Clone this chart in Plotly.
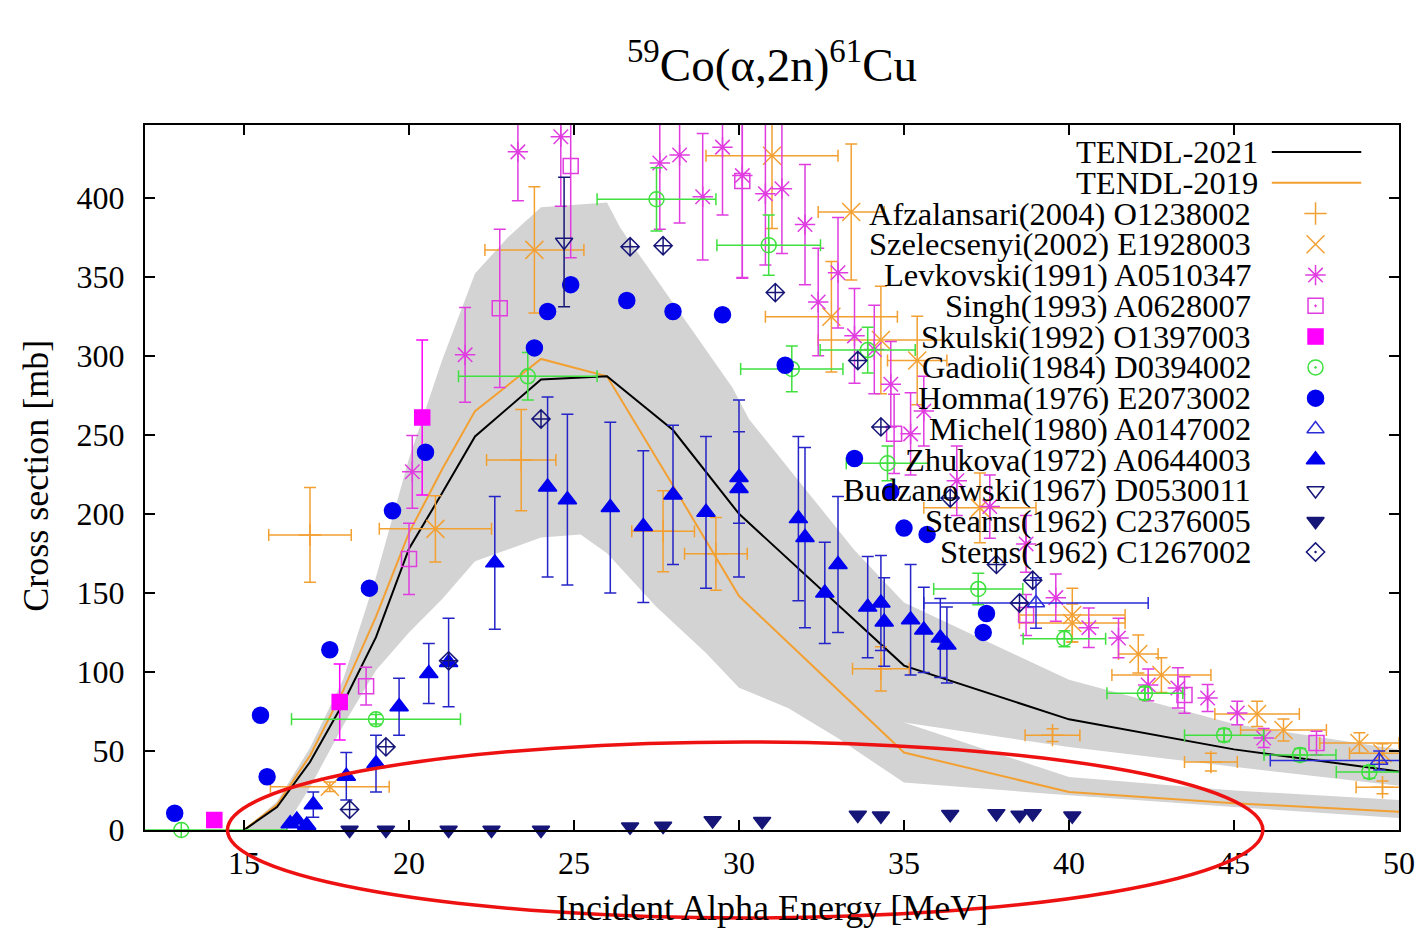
import plotly.graph_objects as go

# ---------------- data ----------------
# TENDL evaluations
tendl21_E = [15, 16, 17, 18, 19, 20, 21, 22, 24, 26, 28, 30, 35, 40, 45, 50]
tendl21_xs = [0, 14.5, 43, 80, 122, 178, 213, 249, 285, 287, 253, 200, 104, 70, 51, 37]
tendl19_E = [15, 16, 17, 18, 19, 20, 21, 22, 24, 26, 28, 30, 35, 40, 45, 50]
tendl19_xs = [0, 16, 47, 88, 135, 188, 228, 265, 298, 287, 218, 148, 49, 24, 17, 11.5]

# uncertainty band
band_up_E = [15.0, 16, 17, 18, 19, 20, 21, 22, 23, 24, 26, 26.4, 29.8, 30.3, 33.5, 35, 40, 45, 50]
band_up = [0, 18, 52, 95, 160, 235, 297, 352, 375, 394, 397, 381, 280, 260, 177, 144, 95, 67, 51]
band_lo_E = [16.2, 17, 18, 19, 20, 21, 22, 24, 25.2, 26, 27.5, 29, 30, 31.5, 33, 35, 40, 45, 50]
band_lo = [0, 27, 66, 101, 125, 146, 170, 185, 187, 175, 141, 112, 90, 77, 58, 30, 22, 14.5, 7.6]
gap_E = [35, 40, 45, 50]
gap_top = [68, 52.5, 40, 28]
gap_bot = [68, 33.5, 25, 19]

# Afzalansari(2004)
afz_E = [17.0, 23.4, 27.7, 29.3, 34.3, 39.5, 44.3, 49.5]
afz_xs = [186.7, 234, 189, 174.7, 102, 60, 43, 27]
afz_dE = [1.25, 1.05, 0.95, 0.95, 0.86, 0.83, 0.8, 0.8]
afz_dxs = [30, 32, 25.6, 23, 14, 4, 5.6, 4]

# Szelecsenyi(2002)
sze_E = [17.6, 20.8, 23.8, 31.0, 33.4, 32.8, 34.3, 35.4, 37.3, 40.1, 40.1, 42.1, 42.8, 45.7, 46.5, 48.8, 49.5]
sze_xs = [27.4, 190.5, 367, 426.6, 391, 324.7, 310, 297, 203.8, 136, 131, 111.4, 98, 73.4, 63.3, 55, 48.6]
sze_dE = [1.8, 1.7, 1.5, 2.0, 1.0, 2.0, 1.9, 0.9, 1.7, 1.6, 1.6, 0.6, 1.5, 1.28, 1.3, 1.2, 1.0]
sze_dxs = [3, 21, 40, 46, 43, 35, 34, 28, 22, 17, 12, 12, 11, 8, 7, 6.5, 6]

# Levkovski(1991)
lev_E = [20.1, 21.7, 23.3, 24.6, 27.6, 28.2, 28.9, 29.5, 30.1, 30.8, 31.3, 32.0, 32.4, 33.0, 33.5,
         34.1, 34.6, 35.2, 35.6, 36.6, 37.6, 38.7, 39.6, 40.6, 41.5, 42.4, 43.3, 44.2, 45.1, 45.9]
lev_xs = [226.6, 300.6, 429, 438.6, 422, 427, 400.6, 432, 414, 402.5, 405.7, 383, 334, 352.5, 312.6,
          304, 282, 250.6, 265, 221, 204.6, 181, 147, 128, 121.5, 91.8, 89.9, 83.5, 74, 58.2]
lev_dxs = [23, 30, 31, 44, 42, 43, 40, 43, 65, 45, 41, 38, 34, 35, 30,
           28, 27, 26, 22, 22, 20, 18, 15, 12.5, 12.5, 10, 12.7, 8.5, 7.4, 6]

# Singh(1993)
sin_E = [18.7, 20.0, 22.75, 24.9, 30.1, 34.7, 38.7, 43.5, 47.5]
sin_xs = [91, 171.5, 330, 420, 410.5, 250.6, 136, 85.4, 55]
sin_dxs = [12, 22.5, 50, 58, 61, 25, 13, 11.5, 7.5]

# Skulski(1992)
sku_E = [14.1, 17.9, 20.4]
sku_xs = [6.3, 81, 261]
sku_dxs = [0, 24, 49]

# Gadioli(1984)
gad_E = [13.1, 19.0, 23.6, 27.5, 30.9, 31.6, 33.9, 34.5, 37.25, 39.86, 42.3, 44.7, 47.0, 49.1]
gad_xs = [0, 70, 287, 399, 370, 291.7, 303.6, 232, 152.5, 121, 86.5, 60, 47.5, 36.7]
gad_dE = [3.2, 2.56, 2.1, 1.8, 1.57, 1.55, 1.44, 1.25, 1.35, 1.25, 1.15, 1.2, 1.09, 1.0]
gad_dxs = [0, 3, 15, 20, 19, 14.5, 14.5, 11, 10, 5, 4, 4, 4, 4]

# Homma(1976)
hom_E = [12.9, 15.5, 15.7, 17.6, 18.8, 19.5, 20.5, 23.8, 24.2, 24.9, 26.6, 28.0, 29.5, 31.4,
         33.5, 34.6, 35.0, 35.7, 37.4, 37.5]
hom_xs = [10.6, 72.6, 33.7, 114, 153, 202, 239, 305, 328, 345, 335, 328, 326, 294,
          235, 214, 191, 187, 125, 137]

# Michel(1980)
mic_E = [39.0, 49.4]
mic_xs = [143.6, 44]
mic_dE = [3.4, 3.3]
mic_dxs = [16, 6]

# Zhukova(1972)
zhu_E = [16.4, 16.6, 16.9, 17.1, 18.1, 19.0, 19.7, 20.6, 21.2, 22.6, 24.2, 24.8, 26.1, 27.1, 28.0,
         29.0, 30.0, 30.0, 31.8, 32.0, 32.6, 33.0, 33.9, 34.3, 34.4, 35.2, 35.6, 36.1, 36.3]
zhu_xs = [4, 6.3, 3, 16, 34, 42, 78, 99, 106, 169, 217, 209, 204, 192, 212,
          201, 216, 223, 197, 185, 150, 168, 141, 143.6, 131.6, 133, 126.6, 121.5, 117]
zhu_dxs = [0, 0, 0, 8, 15, 18, 18, 19, 28, 42, 57, 54, 54, 48, 44,
           48, 56, 29, 52, 57, 32, 43, 32, 30, 28, 35, 27, 25, 24]

# Budzanowski(1967)
bud_E = [24.7]
bud_xs = [372]
bud_dxs = [41]

# Stearns(1962)
ste_E = [18.2, 19.3, 21.2, 22.5, 24.0, 26.7, 27.7, 29.2, 30.7, 33.6, 34.3, 36.4, 37.8, 38.5, 38.9, 40.1]
ste_xs = [0, 0, 0, 0, 0, 2, 2.5, 6, 5.5, 9.5, 9, 10, 10.5, 9.5, 10.5, 9]

# Sterns(1962)
stn_E = [18.2, 19.3, 21.2, 24.0, 26.7, 27.7, 31.1, 33.6, 34.3, 36.4, 37.8, 38.5, 38.9]
stn_xs = [13, 52.6, 107, 260, 369, 369.6, 340, 297, 255, 210, 168, 143.6, 158]

legend_labels = ["TENDL-2021", "TENDL-2019",
                 "Afzalansari(2004) O1238002", "Szelecsenyi(2002) E1928003",
                 "Levkovski(1991) A0510347", "Singh(1993) A0628007",
                 "Skulski(1992) O1397003", "Gadioli(1984) D0394002",
                 "Homma(1976) E2073002", "Michel(1980) A0147002",
                 "Zhukova(1972) A0644003", "Budzanowski(1967) D0530011",
                 "Stearns(1962) C2376005", "Sterns(1962) C1267002"]

x_ticks = [15, 20, 25, 30, 35, 40, 45, 50]
y_ticks = [0, 50, 100, 150, 200, 250, 300, 350, 400]

# ---------------- styles ----------------
ORANGE = "#F3A033"
MAGENTA = "#E03CE0"
SKULSKI = "#FF00FF"
GREEN = "#3FE03F"
BLUE = "#0000EE"
ZBLUE = "#2424C8"
NAVY = "#161678"
GRAY = "#D3D3D3"
FONT = "Liberation Serif"

W, H = 1427, 946
L, R, T, B = 145, 20, 125, 116
PW, PH = W - L - R, H - T - B


def px_x(p):
    return (p - L) / PW


def px_y(p):
    return (H - B - p) / PH


fig = go.Figure()

# band (two gray pieces that merge below 35 MeV)
poly_a_x = band_up_E + gap_E[::-1] + [e for e in band_lo_E if e <= 35][::-1]
poly_a_y = band_up + gap_top[::-1] + [v for e, v in zip(band_lo_E, band_lo) if e <= 35][::-1]
poly_b_x = gap_E + [e for e in band_lo_E if e >= 35][::-1]
poly_b_y = gap_bot + [v for e, v in zip(band_lo_E, band_lo) if e >= 35][::-1]
for px_, py_ in [(poly_a_x, poly_a_y), (poly_b_x, poly_b_y)]:
    fig.add_trace(go.Scatter(x=px_, y=py_, fill="toself", fillcolor=GRAY, mode="lines",
                             line=dict(width=0, color=GRAY), hoverinfo="skip", showlegend=False))

fig.add_trace(go.Scatter(x=tendl19_E, y=tendl19_xs, mode="lines", line=dict(color=ORANGE, width=2),
                         showlegend=False))
fig.add_trace(go.Scatter(x=tendl21_E, y=tendl21_xs, mode="lines", line=dict(color="black", width=2),
                         showlegend=False))


def add_pts(E, xs, symbol, color, size, dE=None, dxs=None, ecolor=None, lw=1.5, clip=True):
    kw = {}
    ec = ecolor or color
    if dE is not None:
        kw["error_x"] = dict(type="data", array=dE, color=ec, thickness=1.5, width=6)
    if dxs is not None:
        kw["error_y"] = dict(type="data", array=dxs, color=ec, thickness=1.5, width=6)
    marker = dict(symbol=symbol, size=size, color=color, line=dict(color=color, width=lw))
    fig.add_trace(go.Scatter(x=E, y=xs, mode="markers", marker=marker, cliponaxis=clip,
                             showlegend=False, **kw))


add_pts(afz_E, afz_xs, "cross-thin-open", ORANGE, 16, afz_dE, afz_dxs)
add_pts(sze_E, sze_xs, "x-thin-open", ORANGE, 18, sze_dE, sze_dxs)
add_pts(lev_E, lev_xs, "asterisk-open", MAGENTA, 17, None, lev_dxs)
add_pts(sin_E, sin_xs, "square-open", MAGENTA, 15, None, sin_dxs)
add_pts(sku_E, sku_xs, "square", SKULSKI, 15, None, sku_dxs)
add_pts(gad_E, gad_xs, "circle-cross-open", GREEN, 15, gad_dE, gad_dxs, clip=False)
add_pts(hom_E, hom_xs, "circle", BLUE, 16, clip=False)
add_pts(mic_E, mic_xs, "triangle-up-open", "#2B2BD8", 15, mic_dE, mic_dxs)
add_pts(zhu_E, zhu_xs, "triangle-up", BLUE, 16, None, zhu_dxs, ecolor=ZBLUE, clip=False)
add_pts(bud_E, bud_xs, "triangle-down-open", NAVY, 15, None, bud_dxs)
add_pts(ste_E, ste_xs, "triangle-down", NAVY, 15, clip=False)
add_pts(stn_E, stn_xs, "diamond-cross-open", NAVY, 14)

# ---------------- legend (text right-aligned, symbol on the right) ----------------
row0, drow = 152, 30.77
leg_sym = [None, None,
           ("cross-thin-open", ORANGE, 16), ("x-thin-open", ORANGE, 18),
           ("asterisk-open", MAGENTA, 17), ("square-open-dot", MAGENTA, 15),
           ("square", SKULSKI, 15), ("circle-open-dot", GREEN, 15),
           ("circle", BLUE, 16), ("triangle-up-open", "#2B2BD8", 15),
           ("triangle-up", BLUE, 16), ("triangle-down-open", NAVY, 15),
           ("triangle-down", NAVY, 15), ("diamond-open-dot", NAVY, 14)]
for i, lab in enumerate(legend_labels):
    ypx = row0 + i * drow
    text_right = 1267 if i < 2 else 1260
    fig.add_annotation(x=px_x(text_right), y=px_y(ypx), xref="paper", yref="paper", text=lab,
                       showarrow=False, xanchor="right", yanchor="middle",
                       font=dict(family=FONT, size=32.5, color="black"))
    if i < 2:
        col = "black" if i == 0 else ORANGE
        fig.add_trace(go.Scatter(x=[px_x(1279), px_x(1369)], y=[px_y(ypx), px_y(ypx)],
                                 xaxis="x2", yaxis="y2", mode="lines",
                                 line=dict(color=col, width=2), showlegend=False))
    else:
        sym, col, sz = leg_sym[i]
        fig.add_trace(go.Scatter(x=[px_x(1323)], y=[px_y(ypx)], xaxis="x2", yaxis="y2",
                                 mode="markers",
                                 marker=dict(symbol=sym, size=sz, color=col, line=dict(color=col, width=1.5)),
                                 showlegend=False))

# red ellipse annotation
fig.add_shape(type="circle", xref="paper", yref="paper",
              x0=px_x(228), x1=px_x(1270), y0=px_y(918), y1=px_y(742),
              line=dict(color="#EE1111", width=3.5), layer="above")

axis_common = dict(showline=True, linewidth=2, linecolor="black", mirror="ticks",
                   ticks="inside", ticklen=10, tickwidth=1.5, tickcolor="black",
                   showgrid=False, zeroline=False,
                   tickfont=dict(family=FONT, size=32, color="black"))

fig.update_layout(
    width=W, height=H,
    margin=dict(l=L, r=R, t=T, b=B),
    paper_bgcolor="white", plot_bgcolor="white",
    showlegend=False,
    font=dict(family=FONT, size=32, color="black"),
    xaxis=dict(range=[12, 50], tickvals=x_ticks, ticklabelstandoff=4, **axis_common),
    yaxis=dict(range=[0, 446], tickvals=y_ticks, ticklabelstandoff=12, **axis_common),
    xaxis2=dict(overlaying="x", range=[0, 1], visible=False),
    yaxis2=dict(overlaying="y", range=[0, 1], visible=False),
    title=dict(text="<sup>59</sup>Co(α,2n)<sup>61</sup>Cu", x=0.5, xref="paper",
               y=1 - 65 / H, yanchor="middle", font=dict(family=FONT, size=47, color="black")),
)

fig.add_annotation(x=0.5, y=px_y(908), xref="paper", yref="paper", text="Incident Alpha Energy [MeV]",
                   showarrow=False, xanchor="center", yanchor="middle",
                   font=dict(family=FONT, size=36, color="black"))
fig.add_annotation(x=px_x(35), y=px_y(476), xref="paper", yref="paper", text="Cross section [mb]",
                   showarrow=False, xanchor="center", yanchor="middle", textangle=-90,
                   font=dict(family=FONT, size=36, color="black"))

fig.write_html("out.html")
